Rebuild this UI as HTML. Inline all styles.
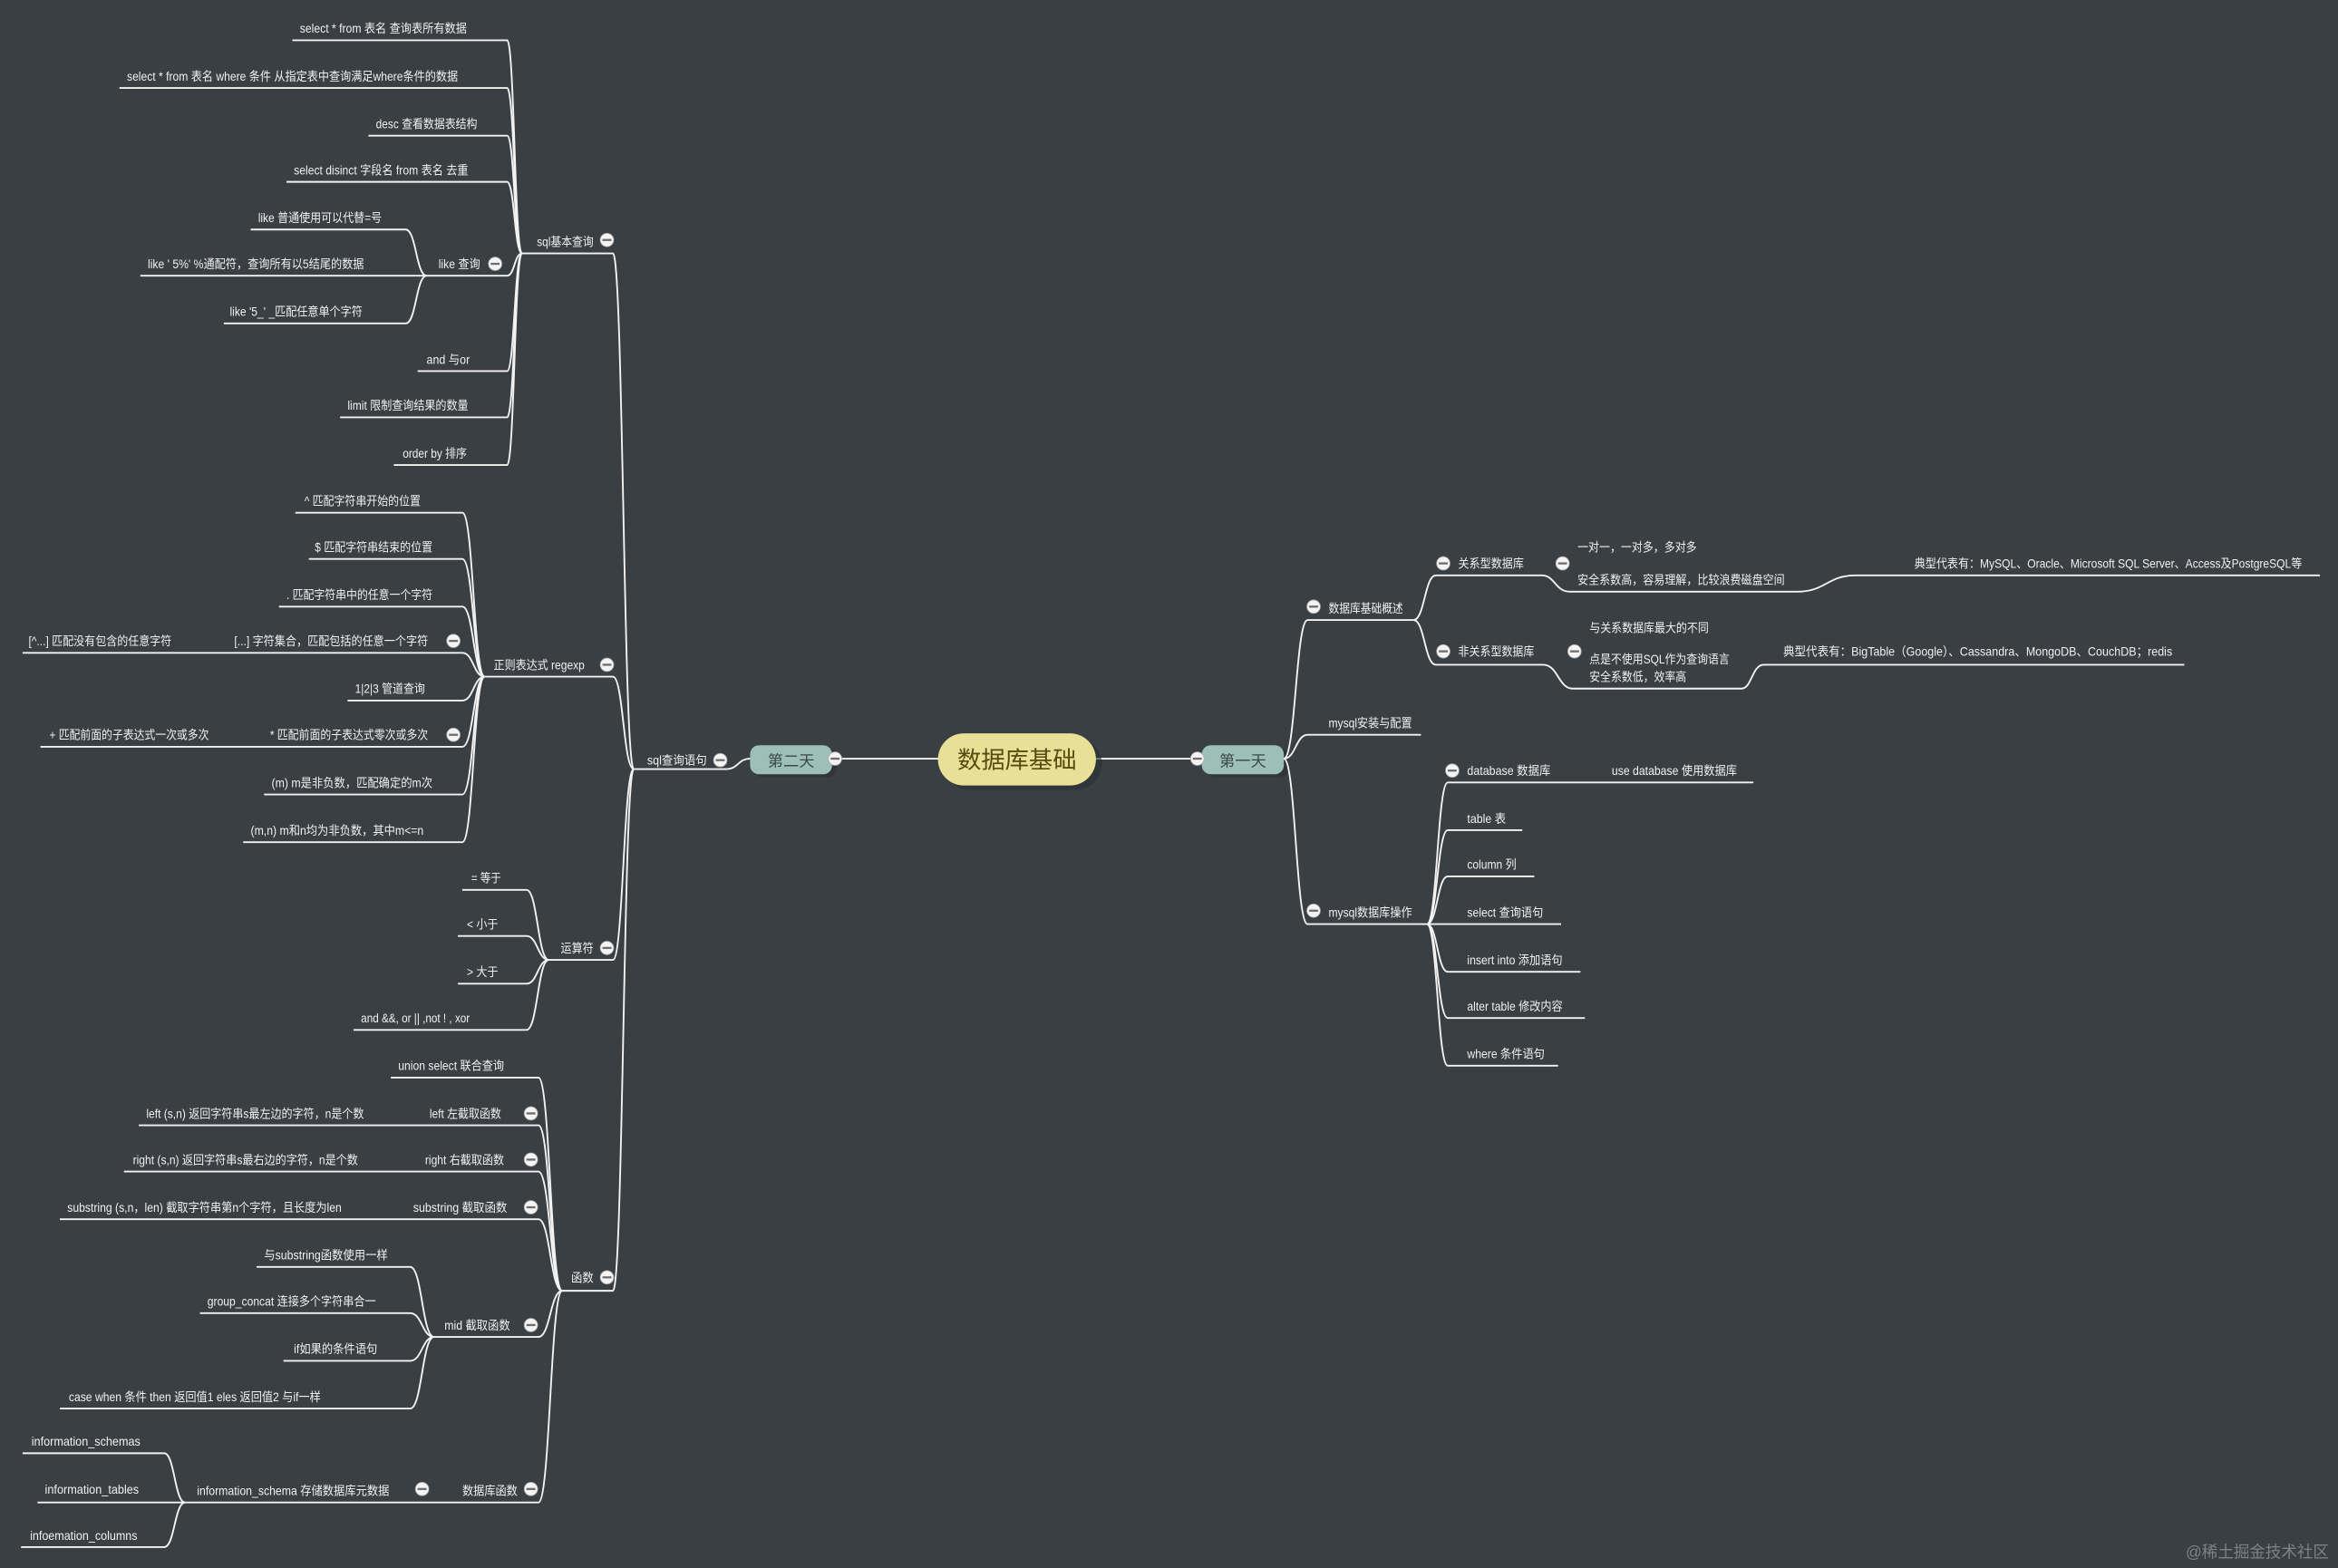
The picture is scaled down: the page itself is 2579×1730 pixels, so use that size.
<!DOCTYPE html>
<html><head><meta charset="utf-8"><style>
html,body{margin:0;padding:0;background:#3a3f44;}
svg{display:block}
text{font-family:"Liberation Sans","Noto Sans CJK SC",sans-serif;fill:#f0f0f0;font-size:8.3px}
path,line{fill:none;stroke:#f2f2f2;stroke-width:1.15}
.c circle{fill:#f4f4f4;stroke:#aaa;stroke-width:.5}
.c rect{fill:#6d6d6d;stroke:none}
</style></head><body>
<svg width="2579" height="1730" viewBox="0 0 1568 1052" xmlns="http://www.w3.org/2000/svg">
<rect x="0" y="0" width="1568" height="1052" fill="#3a3f44"/>

<!-- center lines -->
<line x1="560" y1="509" x2="632" y2="509"/>
<line x1="733" y1="509" x2="805" y2="509"/>
<rect x="633" y="495" width="106" height="35" rx="17.5" fill="#2a2e32" opacity=".6"/>
<rect x="629" y="492" width="106" height="35" rx="17.5" fill="#e8e096"/>
<text x="682" y="515.5" text-anchor="middle" style="font-size:16px;fill:#5a4a10">数据库基础</text>
<rect x="506" y="502" width="55" height="19.5" rx="6" fill="#2a2e32" opacity=".6"/>
<rect x="503" y="500" width="55" height="19.5" rx="6" fill="#9dbfb8"/>
<text x="530.5" y="514" text-anchor="middle" style="font-size:10.5px;fill:#3a4a48">第二天</text>
<rect x="809" y="502" width="55" height="19.5" rx="6" fill="#2a2e32" opacity=".6"/>
<rect x="806" y="500" width="55" height="19.5" rx="6" fill="#9dbfb8"/>
<text x="833.5" y="514" text-anchor="middle" style="font-size:10.5px;fill:#3a4a48">第一天</text>

<!-- LEFT -->
<path d="M503 509 C495 509 495 516 487 516 L425 516"/>
<path d="M425 516 C418 516 418 170 411 170 L350 170"/>
<path d="M425 516 C418 516 418 454 411 454 L325 454"/>
<path d="M425 516 C418 516 418 644 411 644 L368 644"/>
<path d="M425 516 C418 516 418 866 411 866 L377 866"/>

<!-- sql基本查询 -->
<path d="M350 170 C345 170 345 27 340 27 L196 27"/>
<path d="M350 170 C345 170 345 59 340 59 L80 59"/>
<path d="M350 170 C345 170 345 91 340 91 L247 91"/>
<path d="M350 170 C345 170 345 122 340 122 L192 122"/>
<path d="M350 170 C345 170 345 185 340 185 L286 185"/>
<path d="M350 170 C345 170 345 249 340 249 L280 249"/>
<path d="M350 170 C345 170 345 280 340 280 L228 280"/>
<path d="M350 170 C345 170 345 312 340 312 L264 312"/>
<path d="M286 185 C279 185 279 154 272 154 L168 154"/>
<path d="M286 185 L94 185"/>
<path d="M286 185 C279 185 279 217 272 217 L150 217"/>

<!-- regexp -->
<path d="M325 454 C317.5 454 317.5 344 310 344 L198 344"/>
<path d="M325 454 C317.5 454 317.5 375 310 375 L207 375"/>
<path d="M325 454 C317.5 454 317.5 407 310 407 L187 407"/>
<path d="M325 454 C317.5 454 317.5 438 310 438 L15 438"/>
<path d="M325 454 C317.5 454 317.5 470 310 470 L233 470"/>
<path d="M325 454 C317.5 454 317.5 501 310 501 L27 501"/>
<path d="M325 454 C317.5 454 317.5 533 310 533 L177 533"/>
<path d="M325 454 C317.5 454 317.5 565 310 565 L163 565"/>

<!-- 运算符 -->
<path d="M368 644 C360.5 644 360.5 597 353 597 L310 597"/>
<path d="M368 644 C360.5 644 360.5 628 353 628 L307 628"/>
<path d="M368 644 C360.5 644 360.5 660 353 660 L307 660"/>
<path d="M368 644 C360.5 644 360.5 691 353 691 L237 691"/>

<!-- 函数 -->
<path d="M377 866 C369 866 369 723 361 723 L262 723"/>
<path d="M377 866 C369 866 369 755 361 755 L93 755"/>
<path d="M377 866 C369 866 369 786 361 786 L83 786"/>
<path d="M377 866 C369 866 369 818 361 818 L40 818"/>
<path d="M377 866 C369 866 369 897 361 897 L291 897"/>
<path d="M377 866 C369 866 369 1008 361 1008 L124 1008"/>
<path d="M291 897 C283 897 283 850 275 850 L172 850"/>
<path d="M291 897 C283 897 283 881 275 881 L134 881"/>
<path d="M291 897 C283 897 283 913 275 913 L190 913"/>
<path d="M291 897 C283 897 283 945 275 945 L40 945"/>
<path d="M124 1008 C117 1008 117 975 110 975 L15 975"/>
<path d="M124 1008 L25 1008"/>
<path d="M124 1008 C117 1008 117 1038 110 1038 L14 1038"/>

<!-- RIGHT -->
<path d="M861 509 C869 509 869 416 877 416 L948 416"/>
<path d="M861 509 C869 509 869 493 877 493 L953 493"/>
<path d="M861 509 C869 509 869 620 877 620 L957 620"/>
<path d="M948 416 C955.5 416 955.5 386 963 386 L1034 386 C1043 386 1043 397 1053 397 L1205 397 C1225 397 1225 386 1245 386 L1556 386"/>
<path d="M948 416 C955.5 416 955.5 446 963 446 L1035 446 C1045 446 1045 462 1055 462 L1168 462 C1175 462 1175 446 1183 446 L1465 446"/>
<path d="M957 620 C964 620 964 525 971 525 L1176 525"/>
<path d="M957 620 C964 620 964 557 971 557 L1021 557"/>
<path d="M957 620 C964 620 964 588 971 588 L1029 588"/>
<path d="M957 620 L1047 620"/>
<path d="M957 620 C964 620 964 652 971 652 L1060 652"/>
<path d="M957 620 C964 620 964 683 971 683 L1063 683"/>
<path d="M957 620 C964 620 964 715 971 715 L1045 715"/>

<!-- circles -->
<g class="c">
<circle cx="407" cy="161" r="4.5"/><rect x="404" y="160.3" width="6" height="1.4"/>
<circle cx="332" cy="177" r="4.5"/><rect x="329" y="176.3" width="6" height="1.4"/>
<circle cx="407" cy="446" r="4.5"/><rect x="404" y="445.3" width="6" height="1.4"/>
<circle cx="304" cy="430" r="4.5"/><rect x="301" y="429.3" width="6" height="1.4"/>
<circle cx="304" cy="493" r="4.5"/><rect x="301" y="492.3" width="6" height="1.4"/>
<circle cx="407" cy="636" r="4.5"/><rect x="404" y="635.3" width="6" height="1.4"/>
<circle cx="407" cy="857" r="4.5"/><rect x="404" y="856.3" width="6" height="1.4"/>
<circle cx="356" cy="747" r="4.5"/><rect x="353" y="746.3" width="6" height="1.4"/>
<circle cx="356" cy="778" r="4.5"/><rect x="353" y="777.3" width="6" height="1.4"/>
<circle cx="356" cy="810" r="4.5"/><rect x="353" y="809.3" width="6" height="1.4"/>
<circle cx="356" cy="889" r="4.5"/><rect x="353" y="888.3" width="6" height="1.4"/>
<circle cx="356" cy="999" r="4.5"/><rect x="353" y="998.3" width="6" height="1.4"/>
<circle cx="283" cy="999" r="4.5"/><rect x="280" y="998.3" width="6" height="1.4"/>
<circle cx="483" cy="510" r="4.5"/><rect x="480" y="509.3" width="6" height="1.4"/>
<circle cx="560" cy="509" r="4.5"/><rect x="557" y="508.3" width="6" height="1.4"/>
<circle cx="803" cy="509" r="4.5"/><rect x="800" y="508.3" width="6" height="1.4"/>
<circle cx="881" cy="407" r="4.5"/><rect x="878" y="406.3" width="6" height="1.4"/>
<circle cx="968" cy="378" r="4.5"/><rect x="965" y="377.3" width="6" height="1.4"/>
<circle cx="1048" cy="378" r="4.5"/><rect x="1045" y="377.3" width="6" height="1.4"/>
<circle cx="968" cy="437" r="4.5"/><rect x="965" y="436.3" width="6" height="1.4"/>
<circle cx="1056" cy="437" r="4.5"/><rect x="1053" y="436.3" width="6" height="1.4"/>
<circle cx="881" cy="611" r="4.5"/><rect x="878" y="610.3" width="6" height="1.4"/>
<circle cx="974" cy="517" r="4.5"/><rect x="971" y="516.3" width="6" height="1.4"/>
</g>

<!-- left texts -->
<text x="434" y="513" textLength="40" lengthAdjust="spacingAndGlyphs">sql查询语句</text>
<text x="360" y="165" textLength="38" lengthAdjust="spacingAndGlyphs">sql基本查询</text>
<text x="331" y="449" textLength="61" lengthAdjust="spacingAndGlyphs">正则表达式 regexp</text>
<text x="376" y="639" textLength="22" lengthAdjust="spacingAndGlyphs">运算符</text>
<text x="383" y="860" textLength="15" lengthAdjust="spacingAndGlyphs">函数</text>

<text x="201" y="22" textLength="112" lengthAdjust="spacingAndGlyphs">select * from 表名 查询表所有数据</text>
<text x="85" y="54" textLength="222" lengthAdjust="spacingAndGlyphs">select * from 表名 where 条件 从指定表中查询满足where条件的数据</text>
<text x="252" y="86" textLength="68" lengthAdjust="spacingAndGlyphs">desc 查看数据表结构</text>
<text x="197" y="117" textLength="117" lengthAdjust="spacingAndGlyphs">select disinct 字段名 from 表名 去重</text>
<text x="294" y="180" textLength="28" lengthAdjust="spacingAndGlyphs">like 查询</text>
<text x="173" y="149" textLength="83" lengthAdjust="spacingAndGlyphs">like 普通使用可以代替=号</text>
<text x="99" y="180" textLength="145" lengthAdjust="spacingAndGlyphs">like ' 5%' %通配符，查询所有以5结尾的数据</text>
<text x="154" y="212" textLength="89" lengthAdjust="spacingAndGlyphs">like '5_' _匹配任意单个字符</text>
<text x="286" y="244" textLength="29" lengthAdjust="spacingAndGlyphs">and 与or</text>
<text x="233" y="275" textLength="81" lengthAdjust="spacingAndGlyphs">limit 限制查询结果的数量</text>
<text x="270" y="307" textLength="43" lengthAdjust="spacingAndGlyphs">order by 排序</text>

<text x="204" y="339" textLength="78" lengthAdjust="spacingAndGlyphs">^ 匹配字符串开始的位置</text>
<text x="211" y="370" textLength="79" lengthAdjust="spacingAndGlyphs">$ 匹配字符串结束的位置</text>
<text x="192" y="402" textLength="98" lengthAdjust="spacingAndGlyphs">. 匹配字符串中的任意一个字符</text>
<text x="157" y="433" textLength="130" lengthAdjust="spacingAndGlyphs">[...] 字符集合，匹配包括的任意一个字符</text>
<text x="19" y="433" textLength="96" lengthAdjust="spacingAndGlyphs">[^...] 匹配没有包含的任意字符</text>
<text x="238" y="465" textLength="47" lengthAdjust="spacingAndGlyphs">1|2|3 管道查询</text>
<text x="181" y="496" textLength="106" lengthAdjust="spacingAndGlyphs">* 匹配前面的子表达式零次或多次</text>
<text x="33" y="496" textLength="107" lengthAdjust="spacingAndGlyphs">+ 匹配前面的子表达式一次或多次</text>
<text x="182" y="528" textLength="108" lengthAdjust="spacingAndGlyphs">(m) m是非负数，匹配确定的m次</text>
<text x="168" y="560" textLength="116" lengthAdjust="spacingAndGlyphs">(m,n) m和n均为非负数，其中m&lt;=n</text>

<text x="316" y="592" textLength="20" lengthAdjust="spacingAndGlyphs">= 等于</text>
<text x="313" y="623" textLength="21" lengthAdjust="spacingAndGlyphs">&lt; 小于</text>
<text x="313" y="655" textLength="21" lengthAdjust="spacingAndGlyphs">&gt; 大于</text>
<text x="242" y="686" textLength="73" lengthAdjust="spacingAndGlyphs">and &amp;&amp;, or || ,not ! , xor</text>

<text x="267" y="718" textLength="71" lengthAdjust="spacingAndGlyphs">union select 联合查询</text>
<text x="288" y="750" textLength="48" lengthAdjust="spacingAndGlyphs">left 左截取函数</text>
<text x="98" y="750" textLength="146" lengthAdjust="spacingAndGlyphs">left (s,n) 返回字符串s最左边的字符，n是个数</text>
<text x="285" y="781" textLength="53" lengthAdjust="spacingAndGlyphs">right 右截取函数</text>
<text x="89" y="781" textLength="151" lengthAdjust="spacingAndGlyphs">right (s,n) 返回字符串s最右边的字符，n是个数</text>
<text x="277" y="813" textLength="63" lengthAdjust="spacingAndGlyphs">substring 截取函数</text>
<text x="45" y="813" textLength="184" lengthAdjust="spacingAndGlyphs">substring (s,n，len) 截取字符串第n个字符，且长度为len</text>
<text x="298" y="892" textLength="44" lengthAdjust="spacingAndGlyphs">mid 截取函数</text>
<text x="177" y="845" textLength="83" lengthAdjust="spacingAndGlyphs">与substring函数使用一样</text>
<text x="139" y="876" textLength="113" lengthAdjust="spacingAndGlyphs">group_concat 连接多个字符串合一</text>
<text x="197" y="908" textLength="56" lengthAdjust="spacingAndGlyphs">if如果的条件语句</text>
<text x="46" y="940" textLength="169" lengthAdjust="spacingAndGlyphs">case when 条件 then 返回值1 eles 返回值2 与if一样</text>
<text x="310" y="1003" textLength="37" lengthAdjust="spacingAndGlyphs">数据库函数</text>
<text x="132" y="1003" textLength="129" lengthAdjust="spacingAndGlyphs">information_schema 存储数据库元数据</text>
<text x="21" y="970" textLength="73" lengthAdjust="spacingAndGlyphs">information_schemas</text>
<text x="30" y="1002" textLength="63" lengthAdjust="spacingAndGlyphs">information_tables</text>
<text x="20" y="1033" textLength="72" lengthAdjust="spacingAndGlyphs">infoemation_columns</text>

<!-- right texts -->
<text x="891" y="411" textLength="50" lengthAdjust="spacingAndGlyphs">数据库基础概述</text>
<text x="978" y="381" textLength="44" lengthAdjust="spacingAndGlyphs">关系型数据库</text>
<text x="1058" y="370" textLength="80" lengthAdjust="spacingAndGlyphs">一对一，一对多，多对多</text>
<text x="1058" y="392" textLength="139" lengthAdjust="spacingAndGlyphs">安全系数高，容易理解，比较浪费磁盘空间</text>
<text x="1284" y="381" textLength="260" lengthAdjust="spacingAndGlyphs">典型代表有：MySQL、Oracle、Microsoft SQL Server、Access及PostgreSQL等</text>
<text x="978" y="440" textLength="51" lengthAdjust="spacingAndGlyphs">非关系型数据库</text>
<text x="1066" y="424" textLength="80" lengthAdjust="spacingAndGlyphs">与关系数据库最大的不同</text>
<text x="1066" y="445" textLength="94" lengthAdjust="spacingAndGlyphs">点是不使用SQL作为查询语言</text>
<text x="1066" y="457" textLength="65" lengthAdjust="spacingAndGlyphs">安全系数低，效率高</text>
<text x="1196" y="440" textLength="261" lengthAdjust="spacingAndGlyphs">典型代表有：BigTable（Google）、Cassandra、MongoDB、CouchDB；redis</text>
<text x="891" y="488" textLength="56" lengthAdjust="spacingAndGlyphs">mysql安装与配置</text>
<text x="891" y="615" textLength="56" lengthAdjust="spacingAndGlyphs">mysql数据库操作</text>
<text x="984" y="520" textLength="56" lengthAdjust="spacingAndGlyphs">database 数据库</text>
<text x="1081" y="520" textLength="84" lengthAdjust="spacingAndGlyphs">use database 使用数据库</text>
<text x="984" y="552" textLength="26" lengthAdjust="spacingAndGlyphs">table 表</text>
<text x="984" y="583" textLength="33" lengthAdjust="spacingAndGlyphs">column 列</text>
<text x="984" y="615" textLength="51" lengthAdjust="spacingAndGlyphs">select 查询语句</text>
<text x="984" y="647" textLength="64" lengthAdjust="spacingAndGlyphs">insert into 添加语句</text>
<text x="984" y="678" textLength="64" lengthAdjust="spacingAndGlyphs">alter table 修改内容</text>
<text x="984" y="710" textLength="52" lengthAdjust="spacingAndGlyphs">where 条件语句</text>

<text x="1466" y="1045" textLength="96" lengthAdjust="spacingAndGlyphs" style="font-size:11px;fill:#7d8287">@稀土掘金技术社区</text>
</svg>
</body></html>
